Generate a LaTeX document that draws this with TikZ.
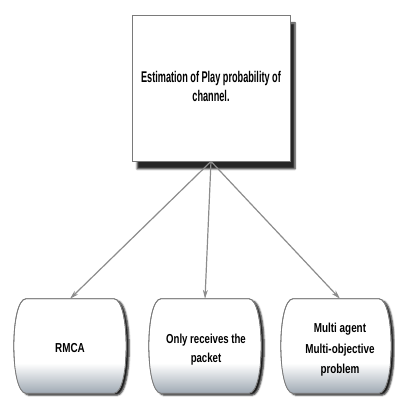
\documentclass[tikz,border=0pt]{standalone}
\usepackage{fontspec}
\usepackage{graphicx}
\newfontfamily\lblfont{Liberation Sans Bold}
\usetikzlibrary{arrows.meta,shadows.blur,calc}
\definecolor{linkgray}{HTML}{8C8C8C}
\definecolor{edgegray}{HTML}{7A7A7A}
\definecolor{basetint}{HTML}{9FA9B3}

% narrow bold label: #1 horizontal factor, #2 size, #3 leading, #4 lines
\newcommand\narrowlabel[4]{%
  \scalebox{#1}[1]{\fontsize{#2}{#3}\selectfont
    \begin{tabular}{@{}c@{}}#4\end{tabular}}}

\tikzset{
  headbox/.style={draw=edgegray, line width=0.8pt, fill=white,
    minimum width=158pt, minimum height=146pt, inner sep=0pt,
    font=\lblfont,
    blur shadow={shadow xshift=5pt, shadow yshift=-8pt,
      shadow blur steps=6, shadow opacity=85}},
  leaf/.style={inner sep=0pt, minimum height=94pt, font=\lblfont},
  barrelfill/.style={draw=edgegray, line width=0.8pt, fill=white,
    blur shadow={shadow xshift=3pt, shadow yshift=-2pt,
      shadow blur steps=4, shadow opacity=90}},
  barreledge/.style={draw=edgegray, line width=0.8pt},
  link/.style={draw=linkgray, line width=1.2pt,
    -{Stealth[length=9pt,width=5pt]}}
}

% outline of a rounded barrel around a named node
\newcommand\barrelpath[1]{%
  ($(#1.north west)+(14,0)$)
  .. controls ($(#1.north west)+(-2,-1)$) and ($(#1.south west)+(-2,1)$)
  .. ($(#1.south west)+(14,0)$)
  -- ($(#1.south east)+(-14,0)$)
  .. controls ($(#1.south east)+(2,1)$) and ($(#1.north east)+(2,-1)$)
  .. ($(#1.north east)+(-14,0)$)
  -- cycle}

% barrel with its shadow, a tinted base and the outline on top
\newcommand\barrelaround[1]{%
  \path[barrelfill] \barrelpath{#1};
  \begin{scope}
    \clip \barrelpath{#1};
    \shade[top color=white, bottom color=basetint]
      (#1.south west) rectangle ($(#1.south east)+(0,30)$);
  \end{scope}
  \path[barreledge] \barrelpath{#1};}

\begin{document}
\begin{tikzpicture}[x=1pt,y=1pt]
  \useasboundingbox (0,0) rectangle (395,398);

  \node[headbox] (est) at (211,310)
    {\narrowlabel{0.59}{15.5}{19.5}{Estimation of Play probability of\\channel.}};

  % leaf boxes (shapes first, text on top)
  \node[leaf, minimum width=116pt] (rmca) at (70,52) {};
  \node[leaf, minimum width=116pt] (only) at (205,52) {};
  \node[leaf, minimum width=114pt] (multi) at (336,52) {};
  \barrelaround{rmca}
  \barrelaround{only}
  \barrelaround{multi}
  \node[leaf, minimum height=0pt] (rmcatext) at ($(rmca)+(0,-3)$)
    {\narrowlabel{0.76}{13}{20}{RMCA}};
  \node[leaf, minimum height=0pt] (onlytext) at ($(only)+(1,-3)$)
    {\narrowlabel{0.74}{13}{19.5}{Only receives the\\packet}};
  \node[leaf, minimum height=0pt] (multitext) at ($(multi)+(4,-3)$)
    {\narrowlabel{0.76}{13}{20.5}{Multi agent\\Multi-objective\\problem}};

  \draw[link] (est.south) -- (rmca.north);
  \draw[link] (est.south) -- (only.north);
  \draw[link] ([xshift=0pt]est.south) -- ([xshift=4pt]multi.north);
\end{tikzpicture}
\end{document}
